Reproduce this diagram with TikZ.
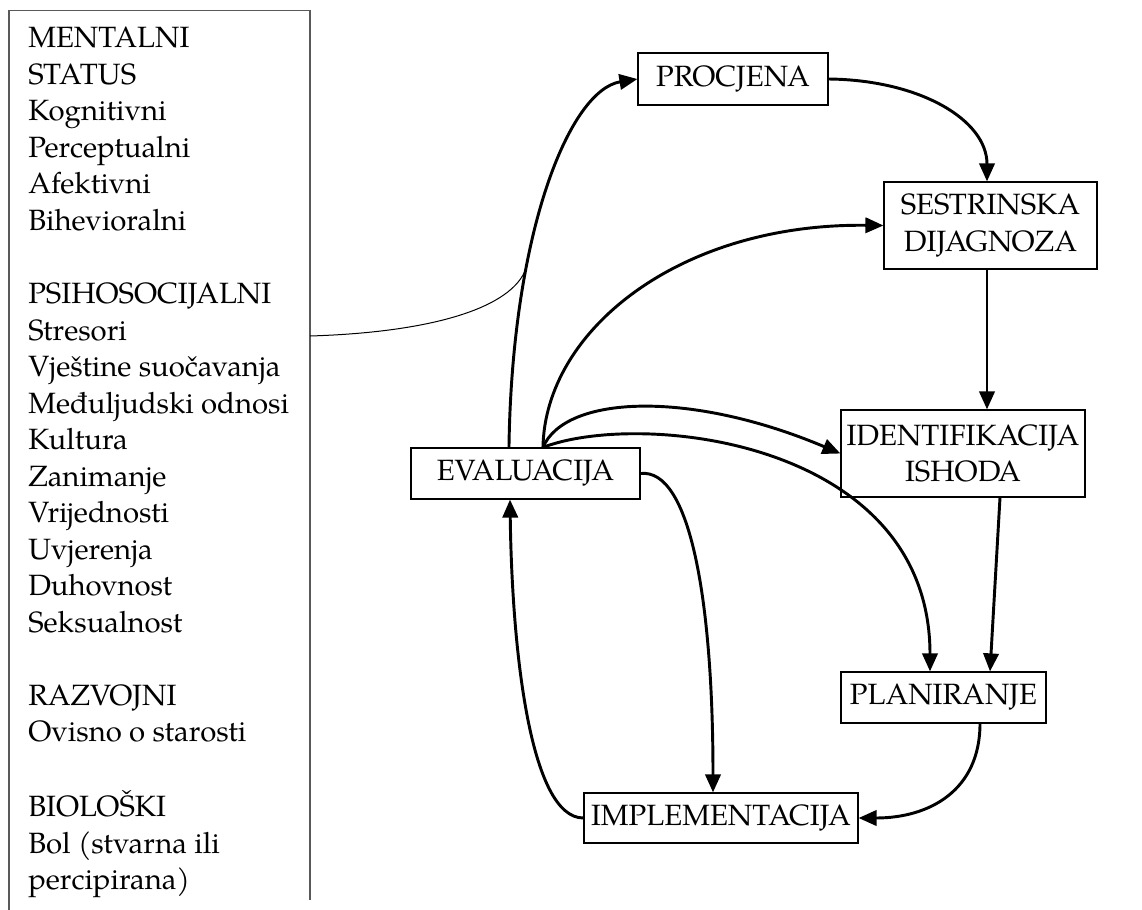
\documentclass[tikz,border=0pt]{standalone}
\usepackage{fontspec}
\setmainfont{texgyrepagella}[Extension=.otf,UprightFont=*-regular,BoldFont=*-bold,ItalicFont=*-italic,BoldItalicFont=*-bolditalic]
\usetikzlibrary{arrows.meta}
\begin{document}
\begin{tikzpicture}[x=0.75pt,y=-0.75pt,
  txt/.style={font=\fontsize{22}{27.4}\selectfont},
  stage/.style={txt, draw, line width=0.9pt, inner sep=0pt, align=center},
  flow/.style={line width=2.2pt, -{Triangle[length=13.5pt,width=11.5pt]}},
  feed/.style={line width=0.75pt}
]
\useasboundingbox (0,0) rectangle (1142,910);
% left frame (open at the bottom)
\draw[black!65, line width=0.8pt] (9,910) -- (9,10.5) -- (310,10.5) -- (310,900);
\node[txt, anchor=north west, inner sep=0pt, align=left] (list) at (28,27) {MENTALNI\\STATUS\\Kognitivni\\Perceptualni\\Afektivni\\Bihevioralni\\\strut\\PSIHOSOCIJALNI\\Stresori\\Vještine suočavanja\\Međuljudski odnosi\\Kultura\\Zanimanje\\Vrijednosti\\Uvjerenja\\Duhovnost\\Seksualnost\\\strut\\RAZVOJNI\\Ovisno o starosti\\\strut\\BIOLOŠKI\\Bol (stvarna ili\\percipirana)};
\coordinate (lb) at (310,336);

% stages
\node[stage, minimum width=142.5pt, minimum height=39pt] (proc) at (733,79) {PROCJENA};
\node[stage, minimum width=159.75pt, minimum height=65.25pt] (sest) at (990.5,225.5) {SESTRINSKA\\DIJAGNOZA};
\node[stage, minimum width=183pt, minimum height=65.25pt] (iden) at (963,453.5) {IDENTIFIKACIJA\\ISHODA};
\node[stage, minimum width=153.75pt, minimum height=38.25pt] (plan) at (943.5,697.5) {PLANIRANJE};
\node[stage, minimum width=205.5pt, minimum height=37.5pt] (impl) at (721,818) {IMPLEMENTACIJA};
\node[stage, minimum width=171.75pt, minimum height=38.25pt] (eval) at (525.5,473.5) {EVALUACIJA};

% connectors
\draw[flow] ([xshift=-12.4pt]eval.north) .. controls (512,230) and (570,90) .. (proc.west) coordinate[pos=0.32] (j);
\draw[feed] (lb) .. controls (440,332) and (518,305) .. (j);
\draw[flow] (proc.east) .. controls (920,80) and (987,120) .. (sest.north -| 987,0);
\draw[flow] (sest.south -| 987,0) -- (iden.north -| 987,0);
\draw[flow] ([xshift=13.1pt]eval.north) .. controls (545,330) and (680,223) .. (sest.west);
\draw[flow] ([xshift=13.1pt]eval.north) .. controls (565,395) and (690,390) .. (iden.west);
\draw[flow] ([xshift=13.1pt]eval.north) .. controls (640,410) and (930,440) .. (plan.north -| 930,0);
\draw[flow] (iden.south -| 1000,0) -- (plan.north -| 990,0);
\draw[flow] (eval.east) .. controls (690,468) and (713,600) .. (impl.north -| 713,0);
\draw[flow] (plan.south -| 980,0) .. controls (980,790) and (930,818) .. (impl.east);
\draw[flow] (impl.west) .. controls (530,818) and (512,650) .. (eval.south -| 510,0);
\end{tikzpicture}
\end{document}
